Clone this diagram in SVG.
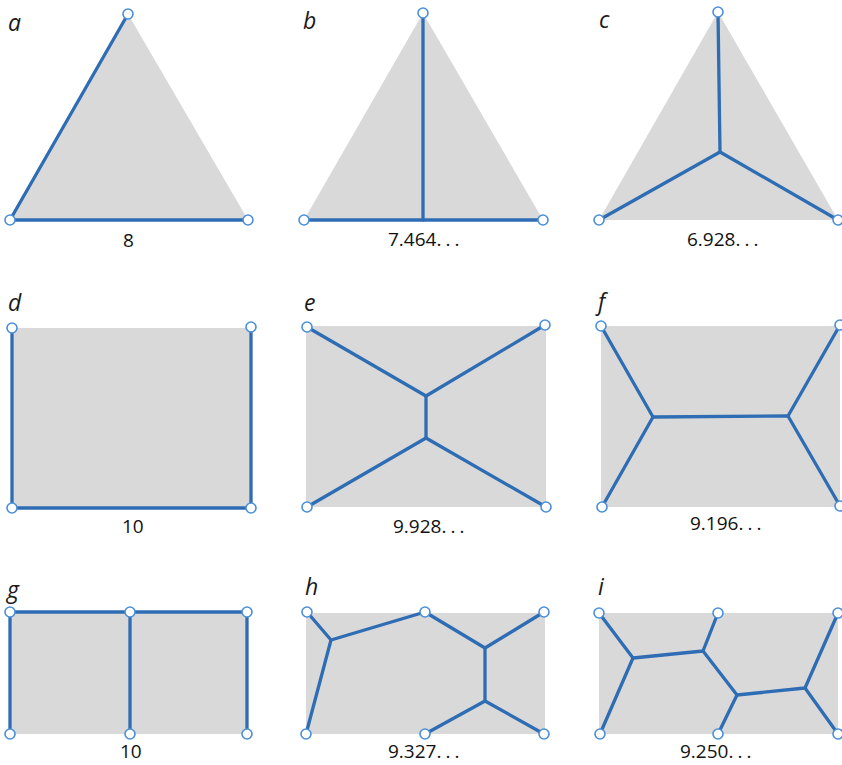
<svg xmlns="http://www.w3.org/2000/svg" width="842" height="765" viewBox="0 0 842 765">
<style>
.bg{fill:#d9d9d9;stroke:none}
.e{stroke:#2e6db4;stroke-width:3.3;fill:none;stroke-linecap:round;stroke-linejoin:round}
.v{fill:#ffffff;stroke:#4a8fd8;stroke-width:1.6}
.lab{font-family:"Open Sans","DejaVu Sans",sans-serif;font-style:italic;font-size:23px;fill:#1a1a1a}
.num{font-family:"Open Sans","DejaVu Sans",sans-serif;font-size:19px;fill:#111}
.dots{letter-spacing:4px}
</style>
<rect width="842" height="765" fill="#ffffff"/>

<g id="panel-a">
<polygon class="bg" points="128,14 10,220 248,220"/>
<text class="lab" x="8" y="31">a</text>
<text class="num" x="123" y="247">8</text>
</g>
<g id="panel-b">
<polygon class="bg" points="423,13 304,220 543,220"/>
<text class="lab" x="303" y="29">b</text>
<text class="num" x="388" y="246">7.464<tspan class="dots">...</tspan></text>
</g>
<g id="panel-c">
<polygon class="bg" points="718,12 599,220 838,220"/>
<text class="lab" x="599" y="28">c</text>
<text class="num" x="687" y="246">6.928<tspan class="dots">...</tspan></text>
</g>
<g id="panel-d">
<rect class="bg" x="12" y="328" width="239" height="180"/>
<text class="lab" x="8" y="311">d</text>
<text class="num" x="122" y="533">10</text>
</g>
<g id="panel-e">
<rect class="bg" x="306" y="326" width="240" height="181"/>
<text class="lab" x="304" y="311">e</text>
<text class="num" x="393" y="533">9.928<tspan class="dots">...</tspan></text>
</g>
<g id="panel-f">
<rect class="bg" x="601" y="326" width="239" height="181"/>
<text class="lab" x="598" y="310">f</text>
<text class="num" x="690" y="530">9.196<tspan class="dots">...</tspan></text>
</g>
<g id="panel-g">
<rect class="bg" x="10" y="612" width="237" height="122"/>
<text class="lab" x="7" y="598">g</text>
<text class="num" x="120" y="758">10</text>
</g>
<g id="panel-h">
<rect class="bg" x="306" y="613" width="239" height="121"/>
<text class="lab" x="305" y="595">h</text>
<text class="num" x="388" y="758">9.327<tspan class="dots">...</tspan></text>
</g>
<g id="panel-i">
<rect class="bg" x="599" y="613" width="239" height="121"/>
<text class="lab" x="598" y="595">i</text>
<text class="num" x="680" y="758">9.250<tspan class="dots">...</tspan></text>
</g>

<g id="connectors">
<polyline class="e" points="128,14 10,220 248,220"/>
<line class="e" x1="423" y1="13" x2="423" y2="220"/>
<line class="e" x1="304" y1="220" x2="543" y2="220"/>
<line class="e" x1="718" y1="12" x2="720" y2="152"/>
<line class="e" x1="599" y1="220" x2="720" y2="152"/>
<line class="e" x1="838" y1="220" x2="720" y2="152"/>
<polyline class="e" points="12,328 12,508 251,508 251,327"/>
<polyline class="e" points="307,327 426,396 545,325"/>
<line class="e" x1="426" y1="396" x2="426" y2="438"/>
<polyline class="e" points="307,507 426,438 546,507"/>
<polyline class="e" points="601,326 653,417 602,507"/>
<line class="e" x1="653" y1="417" x2="788" y2="416"/>
<polyline class="e" points="840,325 788,416 840,506"/>
<polyline class="e" points="10,734 10,612 247,612 247,734"/>
<line class="e" x1="130" y1="612" x2="130" y2="734"/>
<polyline class="e" points="307,612 331,640 306,734"/>
<polyline class="e" points="331,640 425,612 485,648 544,612"/>
<polyline class="e" points="485,648 485,701 425,734"/>
<line class="e" x1="485" y1="701" x2="544" y2="734"/>
<polyline class="e" points="599,613 633,658 600,734"/>
<polyline class="e" points="633,658 703,651 718,613"/>
<polyline class="e" points="703,651 737,695 718,734"/>
<polyline class="e" points="737,695 805,688 838,613"/>
<line class="e" x1="805" y1="688" x2="838" y2="734"/>
</g>

<g id="vertices">
<circle class="v" cx="128" cy="14" r="5"/><circle class="v" cx="10" cy="220" r="5"/><circle class="v" cx="248" cy="220" r="5"/>
<circle class="v" cx="423" cy="13" r="5"/><circle class="v" cx="304" cy="220" r="5"/><circle class="v" cx="543" cy="220" r="5"/>
<circle class="v" cx="718" cy="12" r="5"/><circle class="v" cx="599" cy="220" r="5"/><circle class="v" cx="838" cy="220" r="5"/>
<circle class="v" cx="12" cy="328" r="5"/><circle class="v" cx="251" cy="327" r="5"/><circle class="v" cx="12" cy="508" r="5"/><circle class="v" cx="251" cy="508" r="5"/>
<circle class="v" cx="307" cy="327" r="5"/><circle class="v" cx="545" cy="325" r="5"/><circle class="v" cx="307" cy="507" r="5"/><circle class="v" cx="546" cy="507" r="5"/>
<circle class="v" cx="601" cy="326" r="5"/><circle class="v" cx="840" cy="325" r="5"/><circle class="v" cx="602" cy="507" r="5"/><circle class="v" cx="840" cy="506" r="5"/>
<circle class="v" cx="10" cy="612" r="5"/><circle class="v" cx="130" cy="612" r="5"/><circle class="v" cx="247" cy="612" r="5"/>
<circle class="v" cx="10" cy="734" r="5"/><circle class="v" cx="130" cy="734" r="5"/><circle class="v" cx="247" cy="734" r="5"/>
<circle class="v" cx="307" cy="612" r="5"/><circle class="v" cx="425" cy="612" r="5"/><circle class="v" cx="544" cy="612" r="5"/>
<circle class="v" cx="306" cy="734" r="5"/><circle class="v" cx="425" cy="734" r="5"/><circle class="v" cx="544" cy="734" r="5"/>
<circle class="v" cx="599" cy="613" r="5"/><circle class="v" cx="718" cy="613" r="5"/><circle class="v" cx="838" cy="613" r="5"/>
<circle class="v" cx="600" cy="734" r="5"/><circle class="v" cx="718" cy="734" r="5"/><circle class="v" cx="838" cy="734" r="5"/>
</g>
</svg>
